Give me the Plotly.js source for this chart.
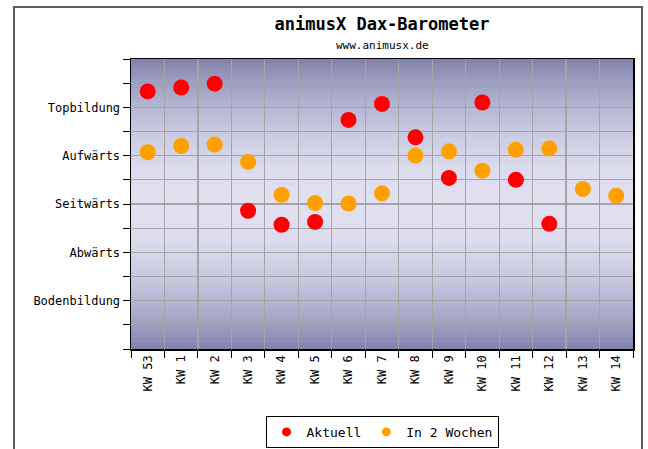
<!DOCTYPE html>
<html>
<head>
<meta charset="utf-8">
<script src="https://cdn.plot.ly/plotly-3.0.1.min.js"></script>
<style>
  html, body { margin: 0; padding: 0; background: #ffffff; }
  #wrap { position: relative; width: 648px; height: 449px; }
  #chart { width: 648px; height: 449px; }
  #frame { position: absolute; left: 13px; top: 6px; width: 626px; height: 460px;
           border: 2px solid #5e5e5e; border-bottom: none; pointer-events: none; }
</style>
</head>
<body>
<div id="wrap">
  <div id="chart"></div>
  <div id="frame"></div>
</div>
<script>
// ---- data ----
const weeks = ['KW 53','KW 1','KW 2','KW 3','KW 4','KW 5','KW 6','KW 7','KW 8','KW 9','KW 10','KW 11','KW 12','KW 13','KW 14'];
const aktuell = [5.33, 5.41, 5.49, 2.86, 2.57, 2.63, 4.74, 5.07, 4.38, 3.54, 5.10, 3.50, 2.59, null, null];
const in2Wochen = [4.07, 4.20, 4.23, 3.87, 3.19, 3.02, 3.01, 3.22, 4.00, 4.09, 3.69, 4.12, 4.15, 3.31, 3.17];
const levelLabels = ['Bodenbildung', 'Abwärts', 'Seitwärts', 'Aufwärts', 'Topbildung'];
const levelValues = [1, 2, 3, 4, 5];
const seriesNames = ['Aktuell', 'In 2 Wochen'];
const seriesColors = ['#ff0000', '#ffa000'];

// ---- y ticks: every half step, labels on the levels ----
const tickvals = [];
const ticktext = [];
for (let v = 0; v <= 6.0001; v += 0.5) {
  tickvals.push(v);
  const i = levelValues.indexOf(v);
  ticktext.push(i >= 0 ? levelLabels[i] : '');
}

// ---- gradient background bands ----
function hex(c) { return Math.round(c).toString(16).padStart(2, '0'); }
const dark = [128, 130, 172];
const light = [224, 224, 241];
const shapes = [];
const N = 80;
for (let k = 0; k < N; k++) {
  const t = (k + 0.5) / N;
  const d = Math.abs(t - 0.5) * 2;
  const f = Math.pow(d, 2.0);
  const col = dark.map((c, j) => light[j] + (c - light[j]) * f);
  shapes.push({
    type: 'rect', xref: 'x domain', yref: 'y domain',
    x0: 0, x1: 1, y0: k / N, y1: (k + 1) / N + 0.002,
    fillcolor: '#' + hex(col[0]) + hex(col[1]) + hex(col[2]),
    line: { width: 0 }, layer: 'below'
  });
}

const font = 'DejaVu Sans Mono, Liberation Mono, monospace';

const seriesData = [aktuell, in2Wochen];
const traces = [];
seriesData.forEach((ys, i) => {
  traces.push({ type: 'scatter', mode: 'markers', name: seriesNames[i], x: weeks, y: ys,
    showlegend: false, marker: { color: seriesColors[i], size: 16 } });
});
seriesData.forEach((ys, i) => {
  traces.push({ type: 'scatter', mode: 'markers', name: seriesNames[i], x: [null], y: [null],
    showlegend: true, marker: { color: seriesColors[i], size: 9 } });
});

const layout = {
  width: 648, height: 449,
  margin: { l: 131, r: 15, t: 59, b: 100 },
  paper_bgcolor: 'rgba(0,0,0,0)',
  plot_bgcolor: 'rgba(0,0,0,0)',
  font: { family: font, size: 12, color: '#000' },
  title: { text: '<b>animusX Dax-Barometer</b>', x: 0.5, xref: 'paper', xanchor: 'center',
           y: 0.946, yref: 'container', yanchor: 'middle',
           font: { family: font, size: 17, color: '#000' } },
  annotations: [{ text: 'www.animusx.de', xref: 'paper', yref: 'paper', x: 0.5, y: 1.046,
                  xanchor: 'center', yanchor: 'middle', showarrow: false,
                  font: { family: font, size: 11, color: '#000' } }],
  xaxis: {
    type: 'category', tickson: 'boundaries', tickangle: -90,
    ticks: 'outside', ticklen: 7, tickcolor: '#000', tickwidth: 1,
    showgrid: true, gridcolor: '#a4a4a4', gridwidth: 1.2,
    showline: true, linecolor: '#000', linewidth: 1.5, mirror: true,
    range: [-0.5, 14.5], fixedrange: true, automargin: false,
    tickfont: { family: font, size: 12 }
  },
  yaxis: {
    range: [0, 6], tickmode: 'array', tickvals: tickvals, ticktext: ticktext,
    ticks: 'outside', ticklen: 7, tickcolor: '#000', tickwidth: 1,
    showgrid: true, gridcolor: '#a4a4a4', gridwidth: 1.2, zeroline: false,
    showline: true, linecolor: '#000', linewidth: 1.5, mirror: true, automargin: false,
    tickfont: { family: font, size: 12 }
  },
  shapes: shapes,
  showlegend: true,
  legend: {
    orientation: 'h', x: 0.5, xref: 'paper', xanchor: 'center',
    y: 0.038, yref: 'container', yanchor: 'middle',
    bgcolor: '#ffffff', bordercolor: '#000', borderwidth: 1,
    font: { family: font, size: 13 }, tracegroupgap: 0
  }
};

Plotly.newPlot('chart', traces, layout, { displayModeBar: false, staticPlot: true });
</script>
</body>
</html>
